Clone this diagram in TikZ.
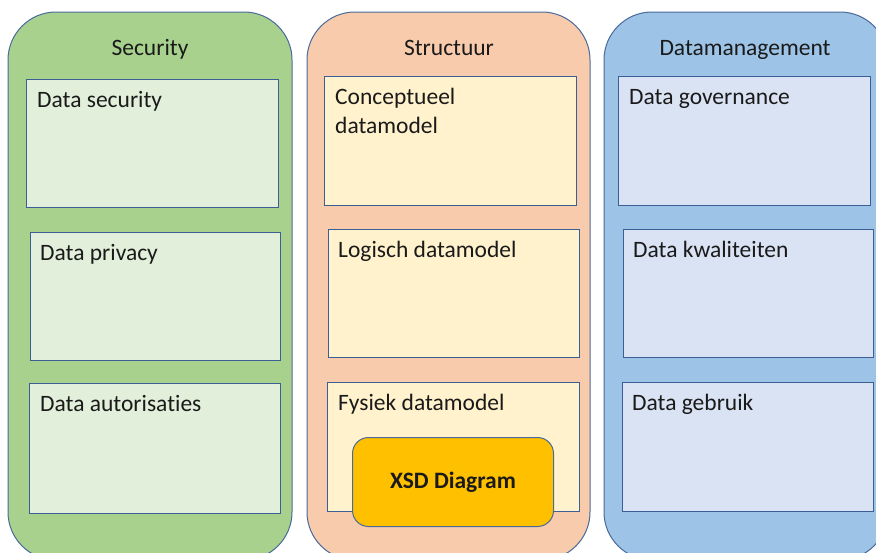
\documentclass[tikz,border=0pt]{standalone}
\usepackage{fontspec}
\setmainfont[Ligatures=NoCommon]{Carlito}
\usetikzlibrary{fit}
\definecolor{secfill}{HTML}{A9D18E}
\definecolor{secbox}{HTML}{E2EFDA}
\definecolor{strfill}{HTML}{F8CBAD}
\definecolor{strbox}{HTML}{FFF2CC}
\definecolor{dmfill}{HTML}{9DC3E6}
\definecolor{dmbox}{HTML}{DAE3F3}
\definecolor{edge}{HTML}{4A6A9A}
\definecolor{boxedge}{HTML}{3B5E94}
\definecolor{xsdfill}{HTML}{FFC000}
\definecolor{txt}{HTML}{1A1A1A}
\tikzset{
  column/.style={draw=edge, line width=1pt, rounded corners=48pt, inner sep=0pt},
  itembox/.style={draw=boxedge, line width=1.3pt, inner sep=0pt, anchor=north west},
  itemtext/.style={anchor=base west, inner sep=0pt, font=\fontsize{23.5}{29}\selectfont, text=txt, align=left},
  coltitle/.style={anchor=base, inner sep=0pt, font=\fontsize{23.5}{29}\selectfont, text=txt},
}
\begin{document}
\begin{tikzpicture}[x=1pt, y=-1pt]
\useasboundingbox (0,0) rectangle (876,552);
\clip (0,0) rectangle (876,552);
\fill[white] (0,0) rectangle (876,552);

% three columns
\path (8,12) coordinate (sA) (292,560) coordinate (sB);
\node[column, fill=secfill, fit={(sA)(sB)}] (security) {};
\path (307,12) coordinate (tA) (590,560) coordinate (tB);
\node[column, fill=strfill, fit={(tA)(tB)}] (structuur) {};
\path (604,12) coordinate (dA) (888,560) coordinate (dB);
\node[column, fill=dmfill, fit={(dA)(dB)}] (datamgmt) {};

% column titles
\node[coltitle] (tsec) at (150,55) {Security};
\node[coltitle] (tstr) at (449,55) {Structuur};
\node[coltitle] (tdm) at (745,55) {Datamanagement};

% Security items
\node[itembox, fill=secbox, minimum width=252pt, minimum height=128pt] (s1) at (26,79) {};
\node[itemtext] (s1t) at ([shift={(11,28)}]s1.north west) {Data security};
\node[itembox, fill=secbox, minimum width=250pt, minimum height=128pt] (s2) at (30,232) {};
\node[itemtext] (s2t) at ([shift={(10,28)}]s2.north west) {Data privacy};
\node[itembox, fill=secbox, minimum width=251pt, minimum height=130pt] (s3) at (29,383) {};
\node[itemtext] (s3t) at ([shift={(11,28)}]s3.north west) {Data autorisaties};

% Structuur items (base anchor of a two-line node sits on its last line)
\node[itembox, fill=strbox, minimum width=252pt, minimum height=129pt] (t1) at (324,76) {};
\node[itemtext] (t1t) at ([shift={(11,57)}]t1.north west) {Conceptueel\\datamodel};
\node[itembox, fill=strbox, minimum width=251pt, minimum height=128pt] (t2) at (328,229) {};
\node[itemtext] (t2t) at ([shift={(10,28)}]t2.north west) {Logisch datamodel};
\node[itembox, fill=strbox, minimum width=252pt, minimum height=129pt] (t3) at (327,382) {};
\node[itemtext] (t3t) at ([shift={(11,28)}]t3.north west) {Fysiek datamodel};
\node[draw=edge, line width=1pt, fill=xsdfill, rounded corners=16pt, anchor=north west,
      minimum width=201pt, minimum height=89pt, inner sep=0pt,
      font=\fontsize{23.5}{29}\selectfont\bfseries, text=txt] (xsd) at (352,437) {XSD Diagram};

% Datamanagement items
\node[itembox, fill=dmbox, minimum width=252pt, minimum height=129pt] (d1) at (618,76) {};
\node[itemtext] (d1t) at ([shift={(11,28)}]d1.north west) {Data governance};
\node[itembox, fill=dmbox, minimum width=250pt, minimum height=128pt] (d2) at (623,229) {};
\node[itemtext] (d2t) at ([shift={(10,28)}]d2.north west) {Data kwaliteiten};
\node[itembox, fill=dmbox, minimum width=251pt, minimum height=129pt] (d3) at (622,382) {};
\node[itemtext] (d3t) at ([shift={(10,28)}]d3.north west) {Data gebruik};
\end{tikzpicture}
\end{document}
